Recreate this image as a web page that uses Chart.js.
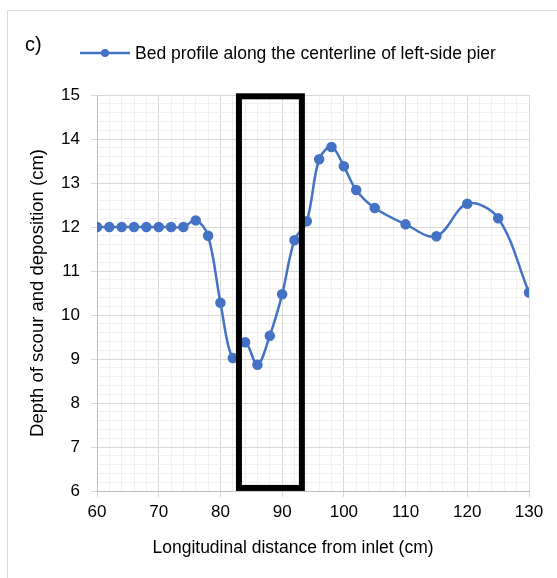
<!DOCTYPE html>
<html lang="en">
<head>
  <meta charset="UTF-8" />
  <title>Bed profile - left-side pier</title>
  <script src="https://cdn.jsdelivr.net/npm/chart.js"></script>
  <style>
    * { box-sizing: border-box; }
    body {
      margin: 0;
      background: #fff;
      font-family: 'Liberation Sans', Arial, sans-serif;
    }
    .wrap {
      position: relative;
      width: 557px;
      height: 578px;
      overflow: hidden;
    }
    /* panel frame, runs off the right and bottom edges */
    .frame {
      position: absolute;
      left: 7px; top: 10px;
      width: 600px; height: 620px;
      border-left: 1px solid #d9d9d9;
      border-top: 1px solid #d9d9d9;
    }
    .panel-tag {
      position: absolute;
      left: 25px; top: 33px;
      font-size: 20px;
      color: #000;
    }
    canvas { position: absolute; left: 0; top: 0; }
  </style>
</head>
<body>
  <div class="wrap">
    <div class="frame"></div>
    <canvas id="profileChart" width="557" height="578"></canvas>
    <div class="panel-tag">c)</div>
  </div>

<script>
  // bed profile along the pier centerline (cm)
  const distance = [60, 62, 64, 66, 68, 70, 72, 74, 76, 78, 80, 82, 84, 86, 88, 90, 92, 94,
                    96, 98, 100, 102, 105, 110, 115, 120, 125, 130];
  const depth = [12.0, 12.0, 12.0, 12.0, 12.0, 12.0, 12.0, 12.0, 12.15, 11.8, 10.28, 9.02, 9.38, 8.87,
                 9.53, 10.47, 11.7, 12.13, 13.54, 13.82, 13.38, 12.84, 12.43, 12.06, 11.79, 12.53, 12.2, 10.51];

  const seriesLabel = 'Bed profile along the centerline of left-side pier';
  const xTitle = 'Longitudinal distance from inlet (cm)';
  const yTitle = 'Depth of scour and deposition (cm)';

  // pier zone outline, in axis units
  const pierX = [83, 93.2];
  const pierY = [6.07, 14.97];

  const xRange = [60, 130];
  const yRange = [6, 15];

  const blue = '#4472c4';
  const majorGrid = '#d9d9d9';
  const minorGrid = '#f0f0f0';
  const FONT = 'Liberation Sans';

  const pierBox = {
    id: 'pierBox',
    afterDatasetsDraw(chart) {
      const { ctx, scales: { x, y } } = chart;
      const x0 = x.getPixelForValue(pierX[0]), x1 = x.getPixelForValue(pierX[1]);
      const y0 = y.getPixelForValue(pierY[1]), y1 = y.getPixelForValue(pierY[0]);
      ctx.save();
      ctx.strokeStyle = '#000';
      ctx.lineWidth = 6;
      ctx.strokeRect(x0, y0, x1 - x0, y1 - y0);
      ctx.restore();
    }
  };

  // single-entry legend (line with a dot) and the x title, which sits
  // centred on the panel rather than on the plot area
  const panelText = {
    id: 'panelText',
    afterDraw(chart) {
      const ds = chart.data.datasets[0];
      const { ctx } = chart;
      const lx = 80, ly = 53, len = 50;
      ctx.save();
      ctx.strokeStyle = ds.borderColor;
      ctx.lineWidth = ds.borderWidth;
      ctx.beginPath(); ctx.moveTo(lx, ly); ctx.lineTo(lx + len, ly); ctx.stroke();
      ctx.fillStyle = ds.backgroundColor;
      ctx.beginPath(); ctx.arc(lx + len / 2, ly, ds.pointRadius, 0, Math.PI * 2); ctx.fill();
      ctx.fillStyle = '#000';
      ctx.font = `17.5px "${FONT}"`;
      ctx.textBaseline = 'middle';
      ctx.fillText(ds.label, lx + len + 5, ly + 1);

      ctx.textAlign = 'center';
      ctx.fillText(xTitle, 293, 548);
      ctx.restore();
    }
  };

  const isMajor = (v, step) => Math.abs(v / step - Math.round(v / step)) < 1e-6;

  const ctx = document.getElementById('profileChart').getContext('2d');
  new Chart(ctx, {
    type: 'scatter',
    data: {
      datasets: [{
        label: seriesLabel,
        data: distance.map((d, i) => ({ x: d, y: depth[i] })),
        showLine: true,
        borderColor: blue,
        backgroundColor: blue,
        borderWidth: 2.5,
        pointRadius: 4,
        pointStyle: 'circle',
        tension: 0.35
      }]
    },
    options: {
      responsive: false,
      animation: false,
      layout: { padding: { left: 25, right: 28, top: 95, bottom: 11 } },
      plugins: {
        tooltip: { enabled: false },
        legend: { display: false }
      },
      scales: {
        x: {
          type: 'linear',
          min: xRange[0], max: xRange[1],
          afterFit(s) { s.height = 76; },
          ticks: {
            stepSize: 2,
            autoSkip: false,
            maxRotation: 0,
            color: '#000',
            padding: 5,
            font: { family: FONT, size: 17 },
            callback: v => isMajor(v, 10) ? v : ''
          },
          grid: {
            color: c => isMajor(c.tick.value, 10) ? majorGrid : minorGrid,
            tickColor: c => isMajor(c.tick.value, 10) ? majorGrid : 'rgba(0,0,0,0)',
            tickLength: 6,
            lineWidth: 1
          },
          border: { color: '#bfbfbf' },
          title: { display: false }
        },
        y: {
          type: 'linear',
          min: yRange[0], max: yRange[1],
          afterFit(s) { s.width = 72; },
          ticks: {
            stepSize: 0.2,
            autoSkip: false,
            color: '#000',
            padding: 11,
            font: { family: FONT, size: 17 },
            callback: v => isMajor(v, 1) ? Math.round(v) : ''
          },
          grid: {
            color: c => isMajor(c.tick.value, 1) ? majorGrid : minorGrid,
            tickColor: c => isMajor(c.tick.value, 1) ? majorGrid : 'rgba(0,0,0,0)',
            tickLength: 6,
            lineWidth: 1
          },
          border: { color: '#bfbfbf' },
          title: {
            display: true,
            text: yTitle,
            color: '#000',
            font: { family: FONT, size: 18.5 },
            padding: { top: 2, bottom: 0 }
          }
        }
      }
    },
    plugins: [pierBox, panelText]
  });
</script>
</body>
</html>
